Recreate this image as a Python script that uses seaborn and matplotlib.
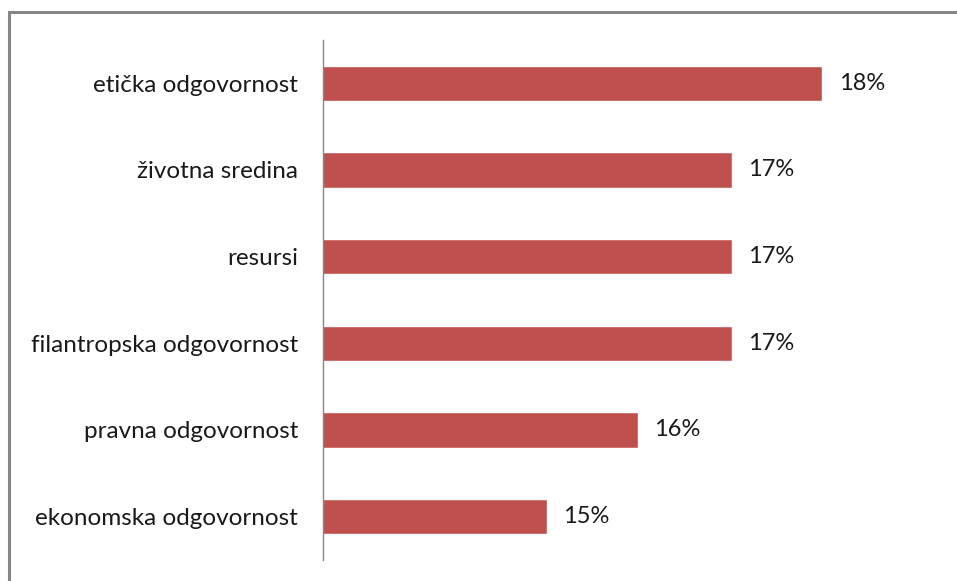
import matplotlib
matplotlib.use("Agg")
import matplotlib.pyplot as plt
import seaborn as sns
import pandas as pd
from matplotlib.patches import Rectangle

categories = ["etička odgovornost", "životna sredina", "resursi",
              "filantropska odgovornost", "pravna odgovornost", "ekonomska odgovornost"]
values = [18.47, 17.48, 17.48, 17.48, 16.45, 15.45]
labels = ["18%", "17%", "17%", "17%", "16%", "15%"]

df = pd.DataFrame({"cat": categories, "val": values})

sns.set_theme(style="white")
plt.rcParams["font.family"] = ["Lato", "DejaVu Sans"]

fig = plt.figure(figsize=(9.57, 5.81), dpi=100)
ax = fig.add_axes([323/957, 1-560/581, (916-323)/957, 520/581])

sns.barplot(data=df, y="cat", x="val", orient="h", color="#C0504D",
            width=0.41, ax=ax, saturation=1)

ax.set_xlim(13, 19.5)
ax.set_xlabel("")
ax.set_ylabel("")
ax.set_xticks([])
for s in ["top", "right", "bottom"]:
    ax.spines[s].set_visible(False)
ax.spines["left"].set_color("#868686")
ax.spines["left"].set_linewidth(1.0)
ax.tick_params(axis="y", length=0, pad=18, labelsize=17.5, labelcolor="#1a1a1a")

for i, (v, lab) in enumerate(zip(values, labels)):
    ax.annotate(lab, xy=(v, i), xytext=(12, 0), textcoords="offset points",
                va="center", ha="left", fontsize=17, color="#1a1a1a")

fig.patches.append(Rectangle((9/957, -0.1), 1.2, 1 - 11.5/581 + 0.1,
                             transform=fig.transFigure, fill=False,
                             edgecolor="#868686", linewidth=2.2))

fig.savefig("out.png", dpi=100)
